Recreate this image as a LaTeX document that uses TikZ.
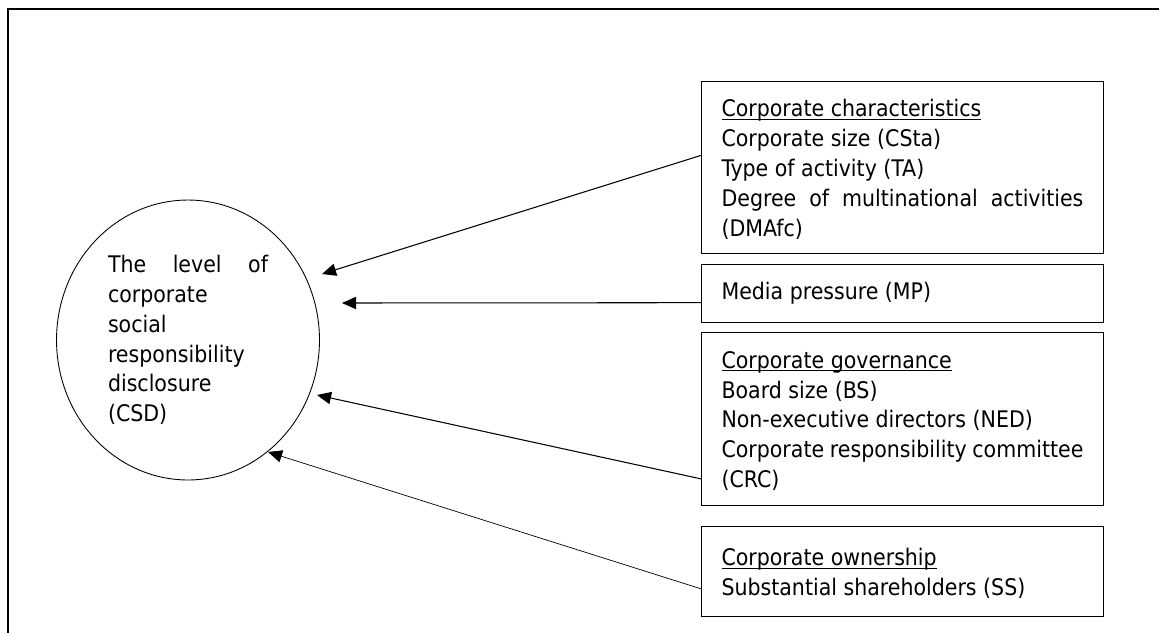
\documentclass[tikz,border=0pt]{standalone}
\usepackage{fontspec}
\setmainfont{DejaVu Sans Condensed}
\usetikzlibrary{shapes.geometric}
\usetikzlibrary{arrows.meta}
\usetikzlibrary{calc}

\newcommand{\factorhead}[1]{\strut\underline{\smash{#1}}}

\begin{document}
\begin{tikzpicture}[x=0.02cm, y=-0.02cm,
        factorbox/.style={draw, line width=0.6pt, rectangle, anchor=north west, text width=7.24cm, inner xsep=0.4cm, inner ysep=0pt, align=justify, font=\fontsize{13}{17}\selectfont},
        influence/.style={line width=0.6pt, -{Triangle[length=8pt,width=7pt]}}]
        \useasboundingbox (0,0) rectangle (1159,633);
        % frame, only top and left edge
        \draw[line width=1pt] (8,633) -- (8,9) -- (1159,9);

        % dependent variable
        \node[ellipse, draw, line width=0.5pt, minimum width=5.26cm, minimum height=5.6cm, inner sep=0pt, text width=3.2cm, align=left, font=\fontsize{13}{17}\selectfont] (csd) at (188,340)
            {The\hfill level\hfill of\\corporate\\social\\responsibility\\disclosure\\(CSD)};

        % factors
        \node[factorbox, minimum height=3.44cm] (chars) at (701,81)
            {\factorhead{Corporate characteristics}\\Corporate size (CSta)\\Type of activity (TA)\\Degree\hfill of\hfill multinational\hfill activities\\(DMAfc)};
        \node[factorbox, minimum height=1.16cm] (media) at (701,264)
            {Media pressure (MP)};
        \node[factorbox, minimum height=3.46cm] (gov) at (701,332)
            {\factorhead{Corporate governance}\\Board size (BS)\\Non-executive directors (NED)\\Corporate responsibility committee\\(CRC)};
        \node[factorbox, minimum height=1.8cm] (own) at (701,526)
            {\factorhead{Corporate ownership}\\Substantial shareholders (SS)};

        % arrow tips near the ellipse
        \coordinate (tipchars) at (322,274);
        \coordinate (tipmedia) at (342,303);
        \coordinate (tipgov) at (317,395);
        \coordinate (tipown) at (268,452);

        % arrows
        \draw[influence] ($(chars.north west)!0.43!(chars.south west)$) -- (tipchars);
        \draw[influence] ($(media.north west)!0.655!(media.south west)$) -- (tipmedia);
        \draw[influence] ($(gov.north west)!0.844!(gov.south west)$) -- (tipgov);
        \draw[influence, line width=0.4pt] ($(own.north west)!0.69!(own.south west)$) -- (tipown);
\end{tikzpicture}
\end{document}
